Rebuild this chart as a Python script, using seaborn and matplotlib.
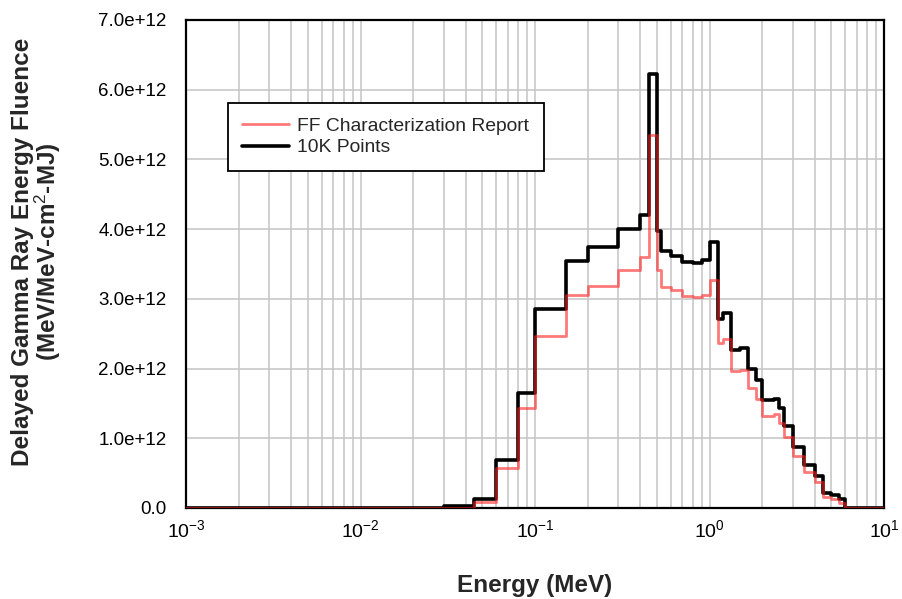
import numpy as np
import pandas as pd
import matplotlib
matplotlib.use("Agg")
import matplotlib.pyplot as plt
import seaborn as sns
from matplotlib.ticker import LogLocator, FixedLocator, MultipleLocator, FuncFormatter, NullFormatter

# Energy bin edges (MeV)
edges = [0.001, 0.03, 0.045, 0.06, 0.08, 0.1, 0.15, 0.2, 0.3, 0.4, 0.45, 0.5, 0.525,
         0.6, 0.7, 0.8, 0.9, 1.0, 1.12, 1.2, 1.33, 1.5, 1.66, 1.85, 2.0, 2.33, 2.5,
         2.67, 3.0, 3.5, 4.0, 4.5, 5.0, 5.5, 6.0, 10.0]

# Bin values (units of 1e12)
ff_report = [0.0, 0.0, 0.08, 0.58, 1.44, 2.47, 3.05, 3.19, 3.41, 3.60, 5.35, 3.42, 3.17,
             3.12, 3.04, 3.02, 3.06, 3.27, 2.36, 2.42, 1.97, 1.98, 1.72, 1.57, 1.32, 1.35,
             1.22, 1.02, 0.74, 0.52, 0.38, 0.16, 0.125, 0.07, 0.0]
points_10k = [0.0, 0.03, 0.125, 0.69, 1.65, 2.85, 3.55, 3.75, 4.00, 4.21, 6.23, 3.98, 3.68,
              3.61, 3.53, 3.52, 3.56, 3.81, 2.71, 2.80, 2.27, 2.29, 2.00, 1.84, 1.55, 1.57,
              1.43, 1.18, 0.87, 0.62, 0.46, 0.22, 0.19, 0.125, 0.0]

series_names = ["FF Characterization Report", "10K Points"]
ytick_vals = [0, 1, 2, 3, 4, 5, 6, 7]
xtick_exps = [-3, -2, -1, 0, 1]

def step_frame(vals, name):
    y = np.array(list(vals) + [vals[-1]]) * 1e12
    return pd.DataFrame({"Energy": edges, "Fluence": y, "Series": name})

df_red = step_frame(ff_report, series_names[0])
df_blk = step_frame(points_10k, series_names[1])

sns.set_style("white")
plt.rcParams["font.family"] = ["Liberation Sans", "DejaVu Sans"]
plt.rcParams["mathtext.fontset"] = "custom"
plt.rcParams["mathtext.rm"] = "Liberation Sans"
plt.rcParams["mathtext.it"] = "Liberation Sans:italic"
plt.rcParams["mathtext.bf"] = "Liberation Sans:bold"

fig = plt.figure(figsize=(9.02, 5.99), dpi=100)
ax = fig.add_axes([186/902, 1-508/599, (884-186)/902, (508-20)/599])

sns.lineplot(data=df_blk, x="Energy", y="Fluence", ax=ax, color="black",
             linewidth=2.6, drawstyle="steps-post", label=series_names[1], zorder=3)
sns.lineplot(data=df_red, x="Energy", y="Fluence", ax=ax, color="#ff2020", alpha=0.6,
             linewidth=2.0, drawstyle="steps-post", label=series_names[0], zorder=4)

ax.set_xscale("log")
ax.set_xlim(1e-3, 1e1)
ax.set_ylim(0, 7e12)

ax.xaxis.set_major_locator(FixedLocator([10.0**e for e in xtick_exps]))
ax.xaxis.set_major_formatter(FuncFormatter(lambda v, p: r"$10^{%d}$" % int(round(np.log10(v)))))
ax.xaxis.set_minor_locator(LogLocator(base=10, subs=np.arange(2, 10), numticks=20))
ax.xaxis.set_minor_formatter(NullFormatter())

ax.yaxis.set_major_locator(FixedLocator([v*1e12 for v in ytick_vals]))
ax.yaxis.set_major_formatter(FuncFormatter(lambda v, p: "0.0" if v == 0 else "%.1fe+12" % (v/1e12)))
ax.yaxis.set_minor_locator(MultipleLocator(0.2e12))

ax.grid(True, which="major", axis="both", color="#c8c8c8", linewidth=1.2, zorder=0)
ax.grid(True, which="minor", axis="x", color="#c8c8c8", linewidth=1.2, zorder=0)
ax.set_axisbelow(True)

for s in ax.spines.values():
    s.set_color("black")
    s.set_linewidth(1.6)

ax.tick_params(axis="both", which="major", direction="inout", length=8, width=1.3,
               labelsize=13.5, colors="black")
ax.tick_params(axis="y", which="major", pad=10)
ax.tick_params(axis="both", which="minor", direction="in", length=4, width=1.0)
ax.tick_params(axis="x", which="major", labelsize=14, pad=4)

ax.set_xlabel("Energy (MeV)", fontsize=17.5, fontweight="bold", labelpad=24)
ax.set_ylabel("Delayed Gamma Ray Energy Fluence\n(MeV/MeV-cm$^{2}$-MJ)",
              fontsize=17.5, fontweight="bold", linespacing=0.95)
ax.yaxis.set_label_coords(-0.176, 0.525)

handles, labels = ax.get_legend_handles_labels()
order = [labels.index(n) for n in series_names]
leg = ax.legend([handles[i] for i in order], [labels[i] for i in order],
                loc="upper left", bbox_to_anchor=(0.06, 0.83), fontsize=13.9,
                frameon=True, fancybox=False, edgecolor="black", framealpha=1,
                handlelength=2.4, handletextpad=0.45, borderpad=0.75,
                labelspacing=0.2, borderaxespad=0)
leg.get_frame().set_linewidth(1.3)

fig.savefig("out.png", dpi=100)
